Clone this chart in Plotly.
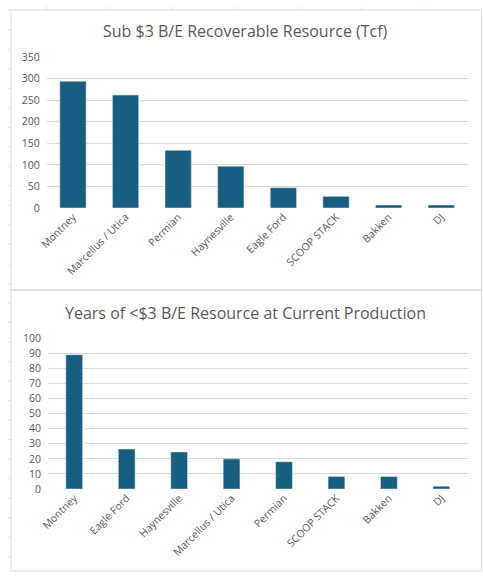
import plotly.graph_objects as go

W, H = 483, 579

# top chart: sub $3 break-even recoverable resource (Tcf)
resource_basins = ["Montney", "Marcellus / Utica", "Permian", "Haynesville",
                   "Eagle Ford", "SCOOP STACK", "Bakken", "DJ"]
resource_tcf = [294, 262, 134, 97, 47, 27, 7, 7]

# bottom chart: years of <$3 B/E resource at current production
years_basins = ["Montney", "Eagle Ford", "Haynesville", "Marcellus / Utica",
                "Permian", "SCOOP STACK", "Bakken", "DJ"]
years_left = [89, 26.5, 24.6, 20, 18.1, 8.4, 8.4, 1.9]

BAR = "#175E80"
TXT = "#595959"
GRID = "#D9D9D9"
FONT = "Open Sans"


def px_x(x):
    return x / W


def px_y(y):
    return 1 - y / H


fig = go.Figure()
fig.add_trace(go.Bar(x=resource_basins, y=resource_tcf, marker_color=BAR,
                     xaxis="x", yaxis="y", showlegend=False))
fig.add_trace(go.Bar(x=years_basins, y=years_left, marker_color=BAR,
                     xaxis="x2", yaxis="y2", showlegend=False, width=0.32))

xcommon = dict(tickangle=-45, tickfont=dict(family=FONT, size=10.5, color=TXT),
               showgrid=False, zeroline=False, showline=False, ticks="",
               fixedrange=True)
ycommon = dict(tickfont=dict(family=FONT, size=10.5, color=TXT),
               showgrid=True, gridcolor=GRID, gridwidth=1,
               zeroline=False, showline=False, ticks="", ticklabelstandoff=6,
               fixedrange=True)

fig.update_layout(
    width=W, height=H,
    margin=dict(l=0, r=0, t=0, b=0),
    paper_bgcolor="white", plot_bgcolor="white",
    bargap=0.5,
    xaxis=dict(domain=[px_x(39.3), px_x(467.3)], anchor="y", **xcommon),
    yaxis=dict(domain=[px_y(206), px_y(51.3)], anchor="x", range=[0, 350],
               dtick=50, **ycommon),
    xaxis2=dict(domain=[px_x(40.7), px_x(467.3)], anchor="y2", **xcommon),
    yaxis2=dict(domain=[px_y(494), px_y(339.3)], anchor="x2", range=[0, 100],
                dtick=10, **ycommon),
)

titles = [("Sub $3 B/E Recoverable Resource (Tcf)", 25),
          ("Years of <$3 B/E Resource at Current Production", 313.3)]
for text, ty in titles:
    fig.add_annotation(text=text, x=0.5, y=px_y(ty), xref="paper", yref="paper",
                       showarrow=False, xanchor="center", yanchor="middle",
                       font=dict(family=FONT, size=16, color=TXT))

# spreadsheet cell lines peeking around the charts
shapes = []
for k in range(29):
    y = 3.3 + 20 * k
    shapes.append(dict(type="line", xref="paper", yref="paper",
                       x0=0, x1=px_x(3), y0=px_y(y), y1=px_y(y),
                       line=dict(color="#E1E1E1", width=1)))
for x in [40, 104, 167, 231, 295, 359, 423]:
    shapes.append(dict(type="line", xref="paper", yref="paper",
                       x0=px_x(x), x1=px_x(x), y0=1, y1=px_y(3),
                       line=dict(color="#E1E1E1", width=1)))
# chart frames
for y0, y1 in [(3, 290), (290, 578)]:
    shapes.append(dict(type="rect", xref="paper", yref="paper",
                       x0=px_x(3), x1=px_x(481.5), y0=px_y(y1), y1=px_y(y0),
                       line=dict(color=GRID, width=1), layer="below"))
fig.update_layout(shapes=shapes)

# page body has a default margin; drop it so the figure fills the window
fig.write_html("out.html", config={"displayModeBar": False}, post_script=(
    "document.body.style.margin='0';"
    "document.body.style.overflow='hidden';"))
